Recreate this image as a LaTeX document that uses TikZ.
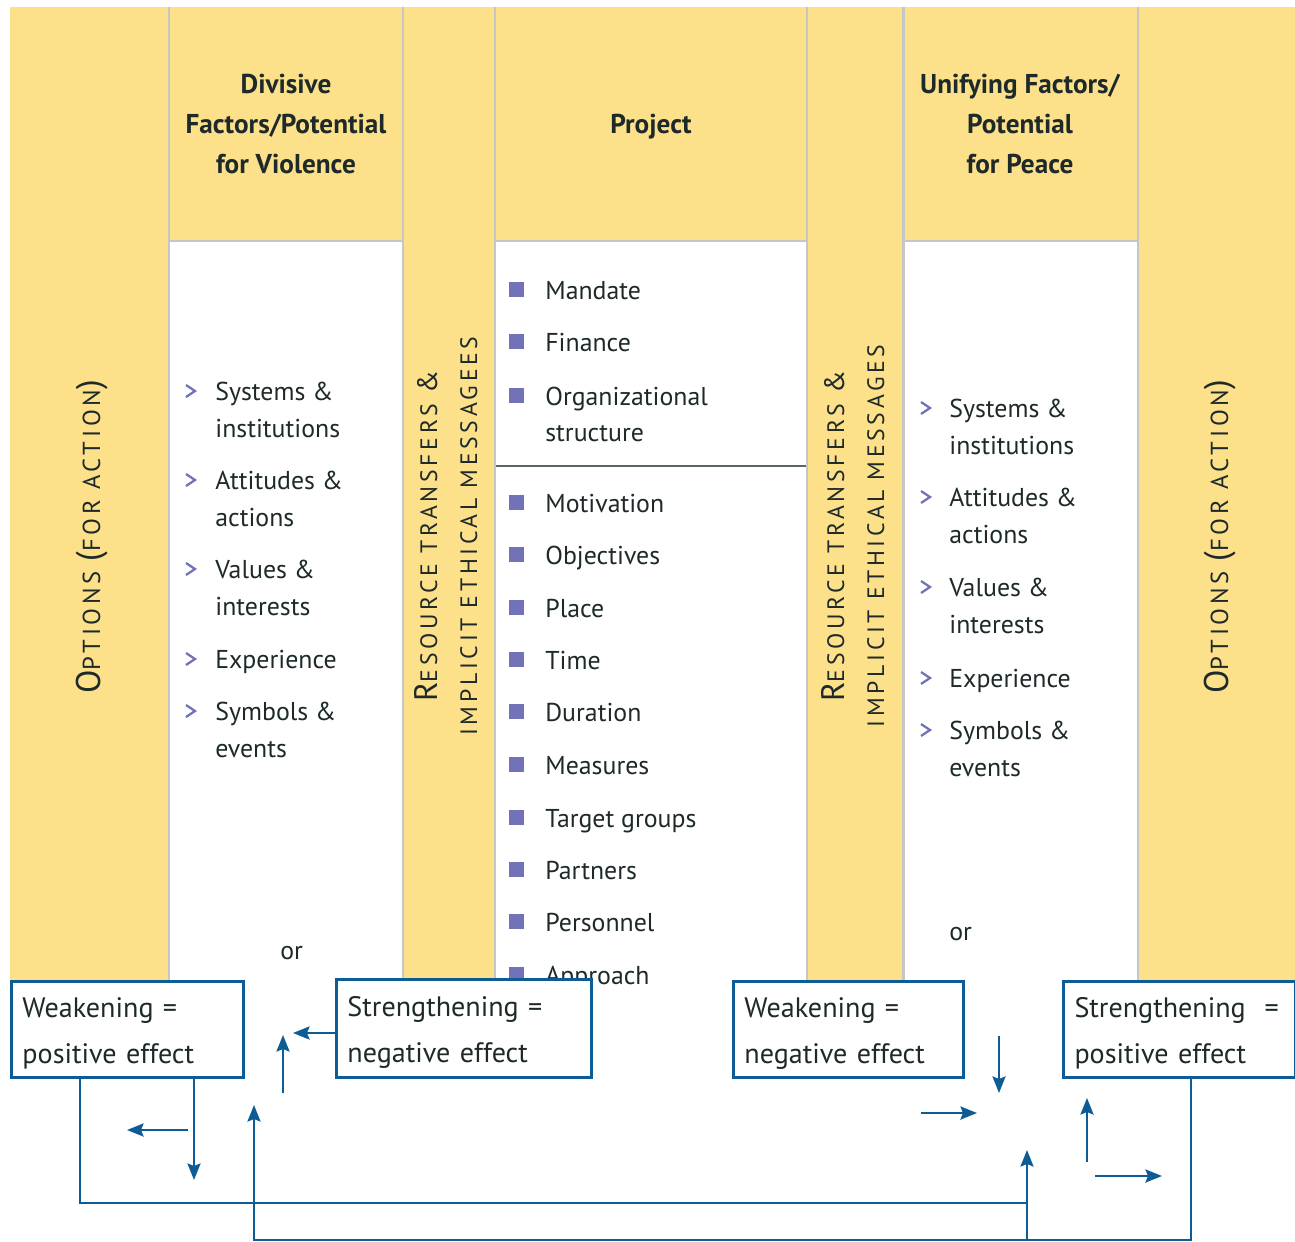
\documentclass[tikz,border=0pt]{standalone}
\usepackage{fontspec}
\setmainfont{PT Sans}
\newfontfamily\optfont[LetterSpace=15]{PT Sans}
\newfontfamily\resfont[LetterSpace=15.5]{PT Sans}
\usetikzlibrary{arrows.meta,calc}
\definecolor{ylw}{HTML}{FDE08A}
\definecolor{gridg}{HTML}{C6C6C6}
\definecolor{txt}{HTML}{1E2A2A}
\definecolor{bul}{HTML}{7272B8}
\definecolor{arr}{HTML}{0E5C96}
\definecolor{divl}{HTML}{5C6666}
\begin{document}
\begin{tikzpicture}[x=0.02cm,y=-0.02cm,
  body/.style={font=\fontsize{14.7}{21}\selectfont, text=txt, inner sep=0pt, anchor=base west},
  hdr/.style={font=\bfseries\fontsize{15.5}{22.8}\selectfont, text=txt, align=center, inner sep=0pt},
  chev/.style={draw=bul, line width=1.3pt},
  sq/.style={fill=bul},
  grid/.style={draw=gridg, line width=1.4pt},
  boxst/.style={draw=arr, line width=1.7pt, fill=white, anchor=north west, inner xsep=0.22cm, inner ysep=0pt,
     align=left, text=txt, font=\fontsize{16}{26}\selectfont},
  ln/.style={draw=arr, line width=1.4pt},
  arw/.style={draw=arr, line width=1.4pt, -{Stealth[length=0.33cm,width=0.26cm,inset=0.05cm]}},
  rot/.style={rotate=90, anchor=base, inner sep=0pt, text=txt}]
\useasboundingbox (0,0) rectangle (1295,1241);
\fill[white] (0,0) rectangle (1295,1241);
% columns
\fill[ylw] (10,7) rectangle (1295,980);
\fill[white] (170,242) rectangle (402,980);
\fill[white] (496,242) rectangle (806,980);
\fill[white] (904,242) rectangle (1137,980);
\foreach \xx in {169,403,495,807,903.5,1138}{\draw[grid] (\xx,7) -- (\xx,980);}
\draw[grid] (170,241) -- (402,241);
\draw[grid] (496,241) -- (806,241);
\draw[grid] (904,241) -- (1137,241);
\draw[draw=divl, line width=1.1pt] (496,466) -- (806,466);
% headers
\node[hdr] (h1) at (286,124) {Divisive\\Factors/Potential\\for Violence};
\node[hdr] (h2) at (651,127) {Project};
\node[hdr] (h3) at (1020,124) {Unifying Factors/\\Potential\\for Peace};
% rotated labels
\node[rot, font=\optfont\fontsize{14}{14}\selectfont] (optL) at (100,537)
  {{\fontsize{19.5}{19}\selectfont O}PTIONS {\fontsize{19.5}{19}\selectfont(}FOR ACTION{\fontsize{19.5}{19}\selectfont)}};
\node[rot, font=\optfont\fontsize{14}{14}\selectfont] (optR) at (1228,537)
  {{\fontsize{19.5}{19}\selectfont O}PTIONS {\fontsize{19.5}{19}\selectfont(}FOR ACTION{\fontsize{19.5}{19}\selectfont)}};
\node[rot, font=\resfont\fontsize{13.5}{14}\selectfont] (resL1) at (437,536)
  {{\fontsize{18.5}{18}\selectfont R}ESOURCE TRANSFERS {\fontsize{16}{15}\selectfont\&}};
\node[rot, font=\resfont\fontsize{13.5}{14}\selectfont] (resL2) at (477,536) {IMPLICIT ETHICAL MESSAGEES};
\node[rot, font=\resfont\fontsize{13.5}{14}\selectfont] (resR1) at (844,536)
  {{\fontsize{18.5}{18}\selectfont R}ESOURCE TRANSFERS {\fontsize{16}{15}\selectfont\&}};
\node[rot, font=\resfont\fontsize{13.5}{14}\selectfont] (resR2) at (884,536) {IMPLICIT ETHICAL MESSAGES};
% left list
\foreach \yy in {391,480,569,659,711}{\draw[chev] (186,\yy-6) -- (195,\yy) -- (186,\yy+6);}
\node[body] (l1a) at (215,400) {Systems \&};
\node[body] (l1b) at (215,437) {institutions};
\node[body] (l2a) at (215,489) {Attitudes \&};
\node[body] (l2b) at (215,526) {actions};
\node[body] (l3a) at (215,578) {Values \&};
\node[body] (l3b) at (215,615) {interests};
\node[body] (l4a) at (215,668) {Experience};
\node[body] (l5a) at (215,720) {Symbols \&};
\node[body] (l5b) at (215,757) {events};
\node[body] (orL) at (280,959) {or};
% right list
\foreach \yy in {408,497,587,678,730}{\draw[chev] (921,\yy-6) -- (930,\yy) -- (921,\yy+6);}
\node[body] (r1a) at (949,417) {Systems \&};
\node[body] (r1b) at (949,454) {institutions};
\node[body] (r2a) at (949,506) {Attitudes \&};
\node[body] (r2b) at (949,543) {actions};
\node[body] (r3a) at (949,596) {Values \&};
\node[body] (r3b) at (949,633) {interests};
\node[body] (r4a) at (949,687) {Experience};
\node[body] (r5a) at (949,739) {Symbols \&};
\node[body] (r5b) at (949,776) {events};
\node[body] (orR) at (949,940) {or};
% project list
\foreach \yy in {299,351,405,512,564,617,669,721,774,827,879,931,984}{\fill[sq] (509,\yy-17) rectangle (524,\yy-2);}
\node[body] (p1) at (545,299) {Mandate};
\node[body] (p2) at (545,351) {Finance};
\node[body] (p3a) at (545,405) {Organizational};
\node[body] (p3b) at (545,441) {structure};
\node[body] (p4) at (545,512) {Motivation};
\node[body] (p5) at (545,564) {Objectives};
\node[body] (p6) at (545,617) {Place};
\node[body] (p7) at (545,669) {Time};
\node[body] (p8) at (545,721) {Duration};
\node[body] (p9) at (545,774) {Measures};
\node[body] (p10) at (545,827) {Target groups};
\node[body] (p11) at (545,879) {Partners};
\node[body] (p12) at (545,931) {Personnel};
\node[body] (p13) at (545,984) {Approach};
% boxes
\node[boxst, minimum width=4.64cm, minimum height=1.92cm, text width=4.20cm] (b1) at (10,980) {\rule{0pt}{16pt}Weakening =\\positive effect};
\node[boxst, minimum width=5.10cm, minimum height=1.96cm, text width=4.66cm] (b2) at (335,978) {\rule{0pt}{16pt}Strengthening =\\negative effect};
\node[boxst, minimum width=4.60cm, minimum height=1.92cm, text width=4.16cm] (b3) at (732,980) {\rule{0pt}{16pt}Weakening =\\negative effect};
\node[boxst, minimum width=4.64cm, minimum height=1.92cm, text width=4.20cm] (b4) at (1062,980) {\rule{0pt}{16pt}Strengthening\ \ =\\positive effect};
% connectors
\coordinate (j1) at (1027,1203);
\coordinate (j2) at (1027,1240);
\coordinate (t3) at (1027,1150);
\coordinate (t2) at (254,1105);
\draw[ln] ($(b1.south west)+(70,0)$) |- (j1);
\draw[arw] ($(b4.south west)+(129,0)$) |- (j2) -- (254,1240) -- (t2);
\draw[arw] (j2) -- (t3);
\coordinate (t4) at (194,1180);
\draw[arw] ($(b1.south west)+(184,0)$) -- (t4);
\coordinate (s5) at (188,1130); \coordinate (t5) at (127,1130);
\draw[arw] (s5) -- (t5);
\coordinate (s6) at (283,1093); \coordinate (t6) at (283,1035);
\draw[arw] (s6) -- (t6);
\coordinate (t7) at (293,1033);
\draw[arw] (b2.west |- t7) -- (t7);
\coordinate (s8) at (999,1036); \coordinate (t8) at (999,1093);
\draw[arw] (s8) -- (t8);
\coordinate (s9) at (921,1113); \coordinate (t9) at (977,1113);
\draw[arw] (s9) -- (t9);
\coordinate (s10) at (1087,1162); \coordinate (t10) at (1087,1098);
\draw[arw] (s10) -- (t10);
\coordinate (s11) at (1095,1176); \coordinate (t11) at (1162,1176);
\draw[arw] (s11) -- (t11);
\end{tikzpicture}
\end{document}
